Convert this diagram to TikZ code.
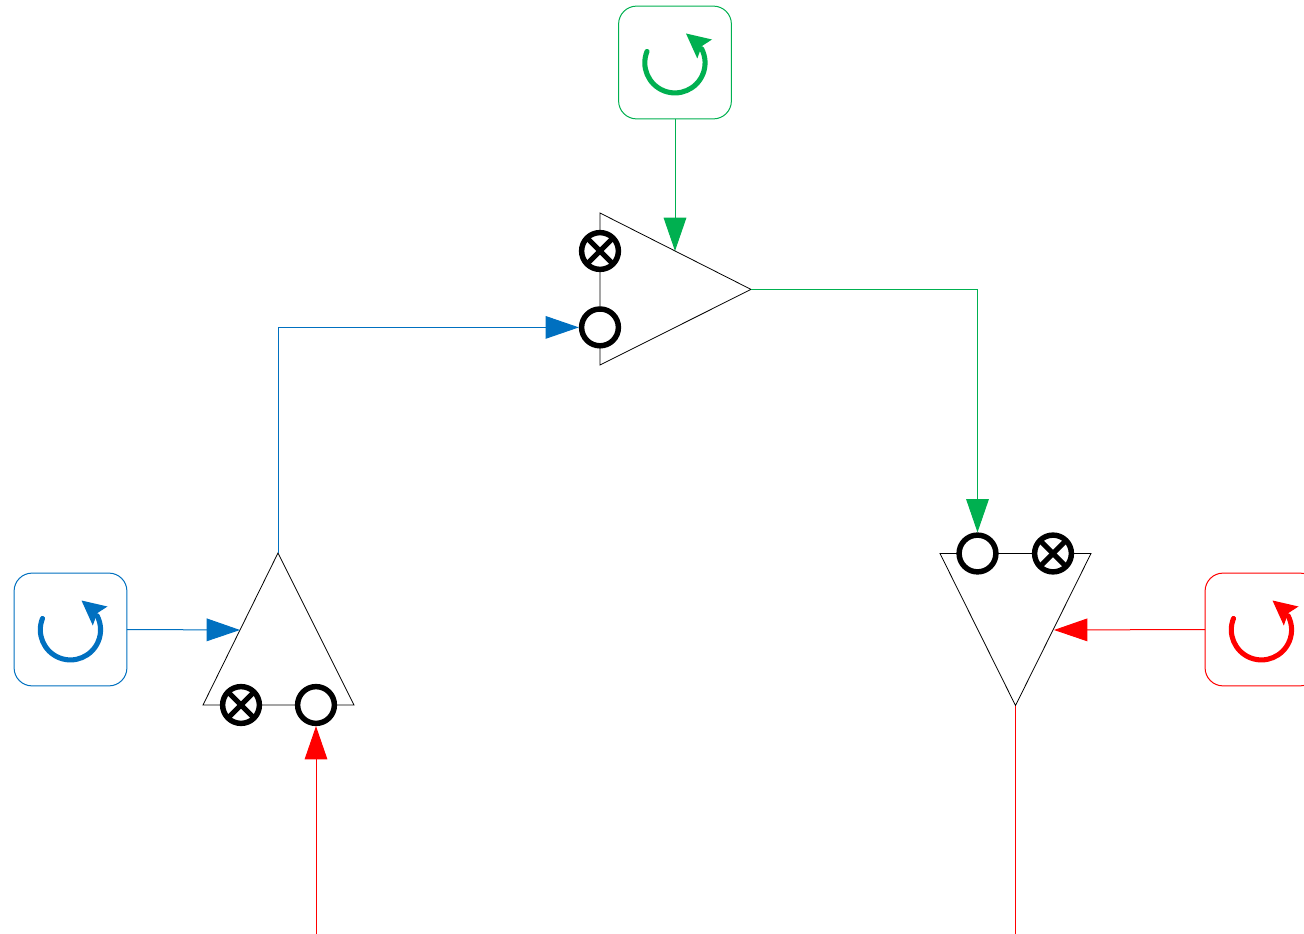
\documentclass[tikz,border=0pt]{standalone}
\usetikzlibrary{arrows.meta}
\definecolor{cblue}{HTML}{0070C0}
\definecolor{cgreen}{HTML}{00B050}
\definecolor{cred}{HTML}{FF0000}
\tikzset{
  px/.style={x=.75pt,y=-.75pt},
  tri/.style={draw=black,line width=.6pt,line join=miter},
  ring/.style={circle,draw=black,fill=white,line width=4.1pt,inner sep=0pt,minimum size=27.6pt,outer sep=2.05pt},
  xring/.style={ring,path picture={
    \draw[black,line width=3.8pt] (path picture bounding box.north west) -- (path picture bounding box.south east);
    \draw[black,line width=3.8pt] (path picture bounding box.north east) -- (path picture bounding box.south west);}},
  conn/.style={line width=.75pt,-{Triangle[length=25pt,width=17pt]}},
  wire/.style={line width=.75pt},
  iconbox/.style={rectangle,rounded corners=13.5pt,draw,line width=.75pt,minimum size=84.6pt,inner sep=0pt,outer sep=0pt,fill=white},
  pics/loopicon/.style={code={
    \draw[#1,line width=3.8pt,line cap=round] (-28,-11) arc[start angle=158,end angle=388,radius=22.6pt];
    \fill[#1] (11,-29) -- (37,-23) -- (26.7,-16.3) -- (22.3,-4) -- cycle;
  }}
}
\begin{document}
\begin{tikzpicture}[px]
\useasboundingbox (0,0) rectangle (1304,934);
\clip (0,0) rectangle (1304,934);
% corners and free ends
\coordinate (gA) at (600,213);
\coordinate (gB) at (751,289.4);
\coordinate (gC) at (600,365);
\coordinate (gIn) at (675,251);
\coordinate (bA) at (278,553);
\coordinate (bB) at (354,705);
\coordinate (bC) at (203,705);
\coordinate (bIn) at (240,630);
\coordinate (rA) at (940,553.5);
\coordinate (rB) at (1091,553.5);
\coordinate (rC) at (1015.5,705.5);
\coordinate (rIn) at (1054,630);
\coordinate (freeL) at (316,934);
\coordinate (freeR) at (1015.5,934);
% triangles
\draw[tri] (gA) -- (gB) -- (gC) -- cycle;
\draw[tri] (bA) -- (bB) -- (bC) -- cycle;
\draw[tri] (rA) -- (rB) -- (rC) -- cycle;
% icon boxes
\node[iconbox,draw=cgreen] (boxG) at (675,62.5) {};
\node[iconbox,draw=cblue] (boxB) at (70.5,629.5) {};
\node[iconbox,draw=cred] (boxR) at (1261.5,629.5) {};
\pic at (boxG.center) {loopicon=cgreen};
\pic at (boxB.center) {loopicon=cblue};
\pic at (boxR.center) {loopicon=cred};
% rings
\node[xring] (gX) at (600,251) {};
\node[ring] (gO) at (600,327.4) {};
\node[xring] (bX) at (241,705) {};
\node[ring] (bO) at (316,705) {};
\node[ring] (rO) at (977.5,553.5) {};
\node[xring] (rX) at (1053,553.5) {};
% connectors
\draw[conn,cgreen] (boxG.south) -- (gIn);
\draw[conn,cblue] (boxB.east) -- (bIn);
\draw[conn,cred] (boxR.west) -- (rIn);
\draw[conn,cblue] (bA) |- (gO.west);
\draw[conn,cgreen] (gB) -| (rO.north);
\draw[conn,cred] (freeL) -- (bO.south);
\draw[wire,cred] (rC) -- (freeR);
\end{tikzpicture}
\end{document}
